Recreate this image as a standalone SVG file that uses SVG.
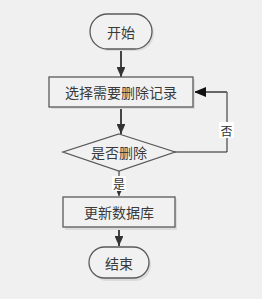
<svg xmlns="http://www.w3.org/2000/svg" width="262" height="299" viewBox="0 0 262 299">
<style>
.shape{fill:#f1f1f1;stroke:#5a5a5a;stroke-width:1.3}
.shadow{fill:#dcdcdc;stroke:none}
.t{font-family:"Noto Sans CJK SC","Liberation Sans",sans-serif;font-size:14px;fill:#3a3a3a;text-anchor:middle;dominant-baseline:central}
.lbl{font-family:"Noto Sans CJK SC","Liberation Sans",sans-serif;font-size:12px;fill:#333;text-anchor:middle;dominant-baseline:central}
.flow{stroke:#444;stroke-width:2;fill:none}
.thin{stroke:#222;stroke-width:1;fill:none}
</style>
<defs>
<marker id="ah" markerWidth="5" markerHeight="4.4" refX="5" refY="2.2" orient="auto" markerUnits="strokeWidth">
<path d="M0,0 L5,2.2 L0,4.4 Z" fill="#333"/>
</marker>
<marker id="ahs" markerWidth="5" markerHeight="5" refX="5" refY="2.5" orient="auto" markerUnits="strokeWidth">
<path d="M0,0 L5,2.5 L0,5 Z" fill="#333"/>
</marker>
<marker id="ahb" markerWidth="12" markerHeight="10" refX="12" refY="5" orient="auto" markerUnits="userSpaceOnUse">
<path d="M0,0 L12,5 L0,10 Z" fill="#111"/>
</marker>
</defs>
<rect width="262" height="299" fill="#f0f0f0"/>
<g id="connectors">
<line class="flow" x1="121" y1="49" x2="121" y2="77" marker-end="url(#ah)"/>
<line class="flow" x1="121" y1="107" x2="121" y2="134" marker-end="url(#ah)"/>
<line class="thin" x1="119" y1="171" x2="119" y2="196" marker-end="url(#ahs)"/>
<line class="flow" x1="119" y1="227" x2="119" y2="246" marker-end="url(#ah)"/>
<polyline class="thin" points="174,152 227,152 227,92 206,92"/>
<line x1="227" y1="92" x2="194" y2="92" stroke="#666" stroke-width="2" marker-end="url(#ahb)"/>
<rect x="219" y="122" width="15" height="16" fill="#fff"/>
<text class="lbl" x="226.5" y="130">否</text>
<rect x="112" y="176" width="14" height="15" fill="#fff"/>
<text class="lbl" x="119" y="183">是</text>
</g>
<g id="start">
<rect class="shadow" x="92" y="16" width="62" height="35" rx="17.5"/>
<rect class="shape" x="90" y="14" width="62" height="35" rx="17.5"/>
<text class="t" x="121" y="31.5">开始</text>
</g>
<g id="select">
<rect class="shadow" x="51" y="79" width="144" height="30"/>
<rect class="shape" x="49" y="77" width="144" height="30"/>
<text class="t" x="121" y="92">选择需要删除记录</text>
</g>
<g id="decide">
<polygon class="shape" points="119,134 175,152 119,171 63,152"/>
<text class="t" x="119" y="152">是否删除</text>
</g>
<g id="update">
<rect class="shadow" x="65" y="199" width="112" height="31"/>
<rect class="shape" x="63" y="197" width="112" height="30"/>
<text class="t" x="119" y="212">更新数据库</text>
</g>
<g id="end">
<rect class="shadow" x="91" y="249" width="60" height="32" rx="16"/>
<rect class="shape" x="89" y="247" width="60" height="31" rx="15.5"/>
<text class="t" x="119" y="262.5">结束</text>
</g>
</svg>
